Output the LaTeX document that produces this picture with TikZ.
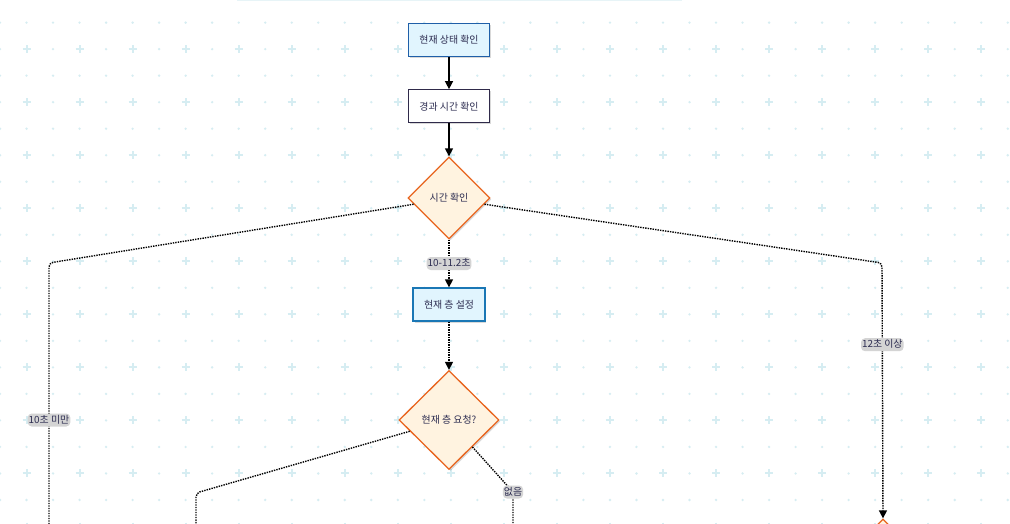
\documentclass[tikz,border=0pt]{standalone}
\usepackage{fontspec}
\setmainfont{Noto Sans CJK KR}
\usetikzlibrary{shapes.geometric,arrows.meta,shadows}
\definecolor{gridcol}{RGB}{214,237,242}
\definecolor{txtcol}{RGB}{46,46,82}
\definecolor{bluefill}{RGB}{225,245,254}
\definecolor{blueline}{RGB}{31,95,168}
\definecolor{darkline}{RGB}{47,42,74}
\definecolor{orangefill}{RGB}{255,243,224}
\definecolor{orangeline}{RGB}{232,100,30}
\definecolor{lblfill}{RGB}{212,212,212}
\tikzset{
  boxshadow/.style={drop shadow={shadow xshift=1.5pt,shadow yshift=-1.5pt,fill=black,opacity=0.15}},
  stepbox/.style={draw=blueline, fill=bluefill, line width=1.3pt, minimum height=33pt, inner xsep=11pt,
    text=txtcol, font=\fontsize{9.9}{11}\selectfont, boxshadow},
  plainbox/.style={stepbox, draw=darkline, fill=white},
  askbox/.style={shape=diamond, aspect=1, inner sep=0pt, draw=orangeline, fill=orangefill, line width=1.3pt,
    text=txtcol, font=\fontsize{9.9}{11}\selectfont, boxshadow},
  lbl/.style={fill=lblfill, text=txtcol, font=\fontsize{9.9}{11}\selectfont, inner xsep=1pt, inner ysep=2pt,
    text height=7.5pt, text depth=1.5pt},
  flow/.style={line width=1.4pt, -{Triangle[width=8pt,length=8pt]}},
  dotflow/.style={line width=1.4pt, dash pattern=on 1.4pt off 1.1pt, rounded corners=4pt},
  dotarrow/.style={dotflow, -{Triangle[width=8pt,length=8pt]}}
}
\begin{document}
\begin{tikzpicture}[x=1pt,y=-1pt]
\useasboundingbox (0,0) rectangle (1010,523);
\clip (0,0) rectangle (1010,523);
\fill[white] (0,0) rectangle (1010,523);
% background grid
\pgfmathsetmacro\gap{26.52};
\pgfmathsetmacro\gy{-3.9};
\foreach \i in {0,...,38} \foreach \j in {0,...,20} {
  \pgfmathtruncatemacro\iscross{and(isodd(\i),iseven(\j))}
  \ifnum\iscross=1
    \draw[gridcol, line width=2pt] (\i*\gap-4,\j*\gap+\gy) -- (\i*\gap+4,\j*\gap+\gy) (\i*\gap,\j*\gap+\gy-4) -- (\i*\gap,\j*\gap+\gy+4);
  \else
    \fill[gridcol] (\i*\gap,\j*\gap+\gy) circle[radius=1.3pt];
  \fi}
\draw[gridcol!60, line width=1pt] (237,0.5) -- (682,0.5);
% nodes
\node[stepbox] (state) at (449,39.7) {현재 상태 확인};
\node[plainbox] (elapsed) at (449,106.3) {경과 시간 확인};
\node[askbox, minimum width=82pt, minimum height=82pt] (timeask) at (449,198) {시간 확인};
\node[stepbox, draw=blueline!85!cyan] (setfloor) at (449,304.5) {현재 층 설정};
\node[askbox, minimum width=100pt, minimum height=99pt] (floorask) at (449,420) {현재 층 요청?};
\node[askbox, minimum width=100pt, minimum height=100pt] (lateask) at (883,569) {};
\coordinate (lbend) at (49,263);
\coordinate (lend) at (49,577);
\coordinate (rbend) at (882,263);
\coordinate (fbend) at (196,493);
\coordinate (fend) at (196,577);
\coordinate (nbend) at (513,492);
\coordinate (nend) at (513,577);
% connectors
\draw[flow] (state) -- (elapsed);
\draw[flow] (elapsed) -- (timeask);
\draw[dotarrow] (timeask) -- node[lbl] {10-11.2초} (setfloor);
\draw[dotarrow] (setfloor) -- (floorask);
\draw[dotflow] (timeask.190) -- (lbend) -- node[lbl] {10초 미만} (lend);
\draw[dotarrow] (timeask.350) -- (rbend) -- node[lbl, pos=0.32] {12초 이상} (lateask.north);
\draw[dotflow] (floorask.196) -- (fbend) -- (fend);
\draw[dotflow] (floorask.311) -- (nbend) node[lbl] {없음} -- (nend);
\end{tikzpicture}
\end{document}
